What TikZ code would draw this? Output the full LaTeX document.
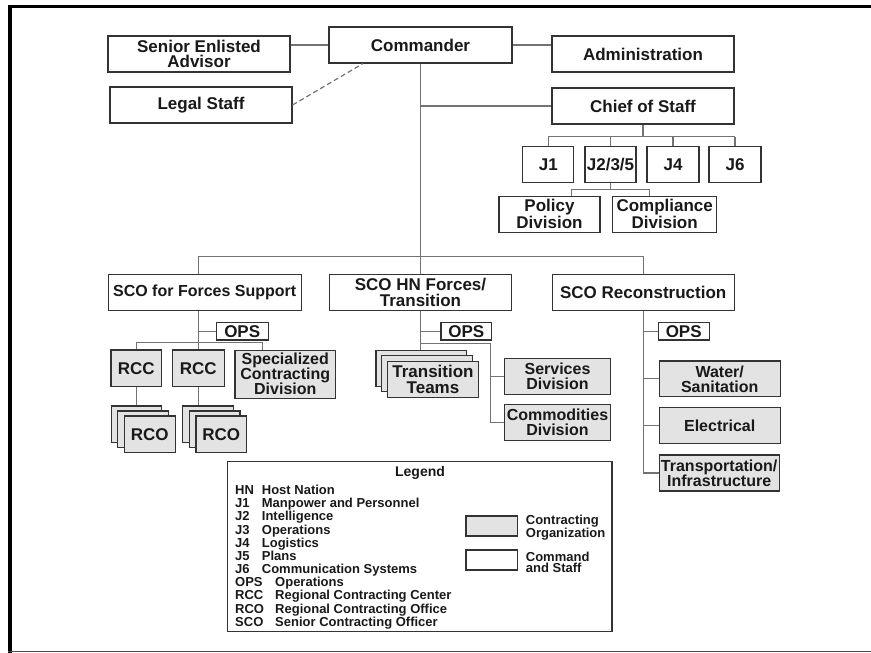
\documentclass[tikz,border=0pt]{standalone}
\usepackage{fontspec}
\setmainfont{Liberation Sans}
\usetikzlibrary{calc}

\begin{document}
\begin{tikzpicture}[x=1pt, y=-1pt,
  box/.style = {draw=black!80, line width=1.1pt, fill=white, text=black!90, inner sep=0pt, align=center, font=\fontsize{17}{15.5}\selectfont\bfseries},
  cbox/.style = {box, fill=black!11},
  sm/.style = {font=\fontsize{16}{15}\selectfont\bfseries},
  sz/.style 2 args = {minimum width=#1pt, minimum height=#2pt},
  wire/.style = {draw=black!55, line width=1.2pt},
  legtext/.style = {anchor=base west, inner sep=0pt, text=black!90, font=\fontsize{13}{11.6}\selectfont\bfseries}]
\useasboundingbox (0,0) rectangle (871,653);
\draw[line width=3.3pt] (10,653) -- (10,6.7) -- (871,6.7);
\draw[black!70, line width=1.2pt] (8,651.5) -- (871,651.5);

\node[box, sz={183}{36}] (cmdr) at (420.5,45) {Commander};
\node[box, sz={182}{36}] (sea) at (199,54) {Senior Enlisted\\Advisor};
\node[box, sz={182}{36}] (adm) at (643,54) {Administration};
\node[box, sz={182}{36}] (legal) at (201,105) {Legal Staff};
\node[box, sz={182}{36}] (cos) at (643,106) {Chief of Staff};
\node[box, sz={51}{36.5}] (j1) at (548.3,164.3) {J1};
\node[box, sz={51}{36.5}] (j235) at (610.5,164.3) {J2/3/5};
\node[box, sz={52}{36.5}] (j4) at (673,164.3) {J4};
\node[box, sz={52}{36.5}] (j6) at (735,164.3) {J6};
\node[box, sz={101}{36.5}] (pol) at (549.5,214.3) {Policy\\Division};
\node[box, sz={104}{36.5}] (cpl) at (664.7,214.3) {Compliance\\Division};

\node[box, sm, sz={193}{36.4}] (scofs) at (204.7,292.5) {SCO for Forces Support};
\node[box, sz={182.4}{36.4}] (scohn) at (420.5,292.5) {SCO HN Forces/\\Transition};
\node[box, sz={181.7}{36.4}] (scor) at (643.2,292.5) {SCO Reconstruction};
\node[box, sz={52.3}{17.3}] (ops1) at (242.2,331.3) {OPS};
\node[box, sz={50.7}{17.3}] (ops2) at (466.3,331.3) {OPS};
\node[box, sz={50.7}{17.3}] (ops3) at (683.7,331.3) {OPS};

\node[cbox, sz={50.7}{36.7}] (rcc1) at (136.3,368.3) {RCC};
\node[cbox, sz={52.3}{36.7}] (rcc2) at (198.2,368.3) {RCC};
\node[cbox, sm, sz={100.7}{48.3}] (spec) at (285.3,374.2) {Specialized\\Contracting\\Division};
\foreach \n/\x in {rco1/149.7, rco2/221.3} {
  \node[cbox, sz={50.7}{36.7}] (\n-c) at (\x-13.3,424.3) {};
  \node[cbox, sz={50.7}{36.7}] (\n-b) at (\x-6.7,429.3) {};
  \node[cbox, sz={50.7}{36.7}] (\n) at (\x,434.3) {RCO};
}
\node[cbox, sz={90.6}{36.3}] (tt-c) at (421.3,368.2) {};
\node[cbox, sz={90.6}{36.3}] (tt-b) at (427.2,373.7) {};
\node[cbox, sz={90.6}{36.3}] (tt) at (433,379.2) {Transition\\Teams};
\node[cbox, sm, sz={106.4}{36}] (svc) at (557.5,376.3) {Services\\Division};
\node[cbox, sm, sz={106.4}{36.4}] (comm) at (557.5,422.5) {Commodities\\Division};
\node[cbox, sm, sz={120.7}{35.7}] (wat) at (719.7,378.8) {Water/\\Sanitation};
\node[cbox, sm, sz={120.7}{36}] (ele) at (719.7,425.3) {Electrical};
\node[cbox, sm, sz={119.7}{36}] (trn) at (719.2,473) {Transportation/\\Infrastructure};

\draw[wire] (cmdr.west) -- (cmdr.west -| sea.east);
\draw[wire] (cmdr.east) -- (cmdr.east -| adm.west);
\draw[wire, dash pattern=on 5pt off 3pt] (legal.east) -- ([xshift=-57.5]cmdr.south);
\draw[wire] (cmdr.south) -- (scohn.north);
\draw[wire] (cmdr.south |- cos.west) -- (cos.west);
\draw[wire] (cos.south) -- ++(0,12) coordinate (jbus);
\draw[wire] (jbus -| j1.north) -- (jbus -| j6.north);
\foreach \j in {j1,j235,j4,j6} \draw[wire] (\j.north) -- (\j.north |- jbus);
\draw[wire] (j235.south) -- ++(0,6.6) coordinate (dbus);
\draw[wire] ([xshift=22]pol.north) |- (dbus) -| ([xshift=-15]cpl.north);

\path (scohn.north) ++(0,-17.5) coordinate (sbus);
\draw[wire] (rcc2.north |- scofs.north) |- (sbus) -| (scor.north);
\draw[wire] (rcc2.north |- scofs.south) -- (rcc2.north);
\draw[wire] (ops1.west) -- (ops1.west -| rcc2.north);
\draw[wire] (rcc1.north) -- ++(0,-6.7) -| ([xshift=-23]spec.north);
\draw[wire] (rcc1.south) -- (rcc1.south |- rco1-c.north);
\draw[wire] (rcc2.south) -- (rcc2.south |- rco2-c.north);

\draw[wire] (scohn.south) -- (scohn.south |- tt-c.north);
\draw[wire] (ops2.west) -- (ops2.west -| scohn.south);
\coordinate (hnk) at (490.7,343.3);
\draw[wire] (hnk -| scohn.south) -- (hnk) |- (comm.west);
\draw[wire] (hnk |- svc.west) -- (svc.west);

\draw[wire] (scor.south) |- (trn.west);
\foreach \b in {ops3,wat,ele} \draw[wire] (\b.west -| scor.south) -- (\b.west);

\node[draw=black!80, line width=1.1pt, sz={384.5}{170.2}] (leg) at (419.75,546.6) {};
\node[legtext, anchor=base, font=\fontsize{14}{14}\selectfont\bfseries] (legt) at (420,476.3) {Legend};
\foreach \a/\t [count=\i from 0] in {HN/Host Nation, J1/Manpower and Personnel, J2/Intelligence, J3/Operations, J4/Logistics, J5/Plans, J6/Communication Systems} {
  \node[legtext] (ab\i) at (235,494.6+13.17*\i) {\a};
  \node[legtext] (df\i) at (261.7,494.6+13.17*\i) {\t};
}
\foreach \a/\t [count=\i from 7] in {OPS/Operations, RCC/Regional Contracting Center, RCO/Regional Contracting Office, SCO/Senior Contracting Officer} {
  \node[legtext] (ab\i) at (235,494.6+13.17*\i) {\a};
  \node[legtext] (df\i) at (275,494.6+13.17*\i) {\t};
}
\node[cbox, sz={51.7}{20}] (swc) at (491.8,526) {};
\node[legtext, anchor=west, align=left] (swct) at (525.7,527.5) {Contracting\\Organization};
\node[box, sz={51.7}{20}] (sws) at (491.8,560) {};
\node[legtext, anchor=west, align=left] (swst) at (525.7,562.5) {Command\\and Staff};
\end{tikzpicture}
\end{document}
